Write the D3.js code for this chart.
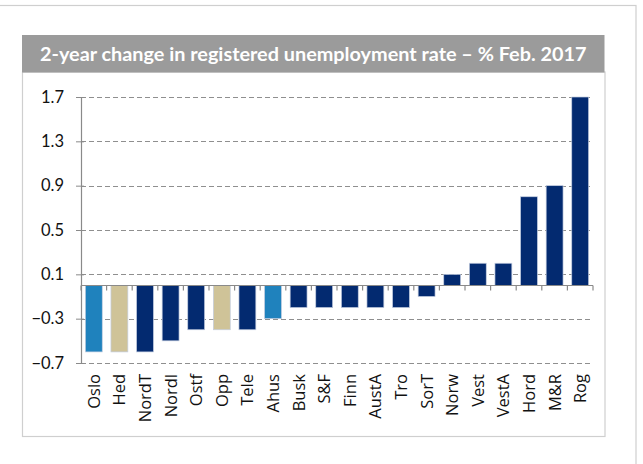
<!DOCTYPE html>
<html>
<head>
<meta charset="utf-8">
<script src="https://cdn.jsdelivr.net/npm/d3@7"></script>
<style>
  html, body { margin: 0; padding: 0; background: #fff; }
  svg { display: block; }
</style>
</head>
<body>
<svg id="chart" width="643" height="464"></svg>
<script>
// Regions, ordered by 2-year change in registered unemployment rate
const regions = ["Oslo", "Hed", "NordT", "Nordl", "Ostf", "Opp", "Tele", "Ahus", "Busk", "S&F",
                 "Finn", "AustA", "Tro", "SorT", "Norw", "Vest", "VestA", "Hord", "M&R", "Rog"];
const changes = [-0.6, -0.6, -0.6, -0.5, -0.4, -0.4, -0.4, -0.3, -0.2, -0.2,
                 -0.2, -0.2, -0.2, -0.1, 0.1, 0.2, 0.2, 0.8, 0.9, 1.7];
// colour group per region: 0 = navy, 1 = light blue, 2 = sand
const groups = [1, 2, 0, 0, 0, 2, 0, 1, 0, 0,
                0, 0, 0, 0, 0, 0, 0, 0, 0, 0];
const yTicks = [-0.7, -0.3, 0.1, 0.5, 0.9, 1.3, 1.7];
const titleText = "2-year change in registered unemployment rate – % Feb. 2017";

const palette = ["#032a70", "#1f82bd", "#cfc398"];

const svg = d3.select("#chart");
const font = "'Open Sans', 'DejaVu Sans', sans-serif";

// outer frame
svg.append("rect")
  .attr("x", -2).attr("y", 5.5).attr("width", 638).attr("height", 470)
  .attr("fill", "none").attr("stroke", "#cfcfcf").attr("stroke-width", 1.2);

// inner panel
svg.append("rect")
  .attr("x", 22.5).attr("y", 72).attr("width", 582.5).attr("height", 364.5)
  .attr("fill", "#fff").attr("stroke", "#cfcfcf").attr("stroke-width", 1.2);

// title bar
svg.append("rect")
  .attr("x", 22).attr("y", 35).attr("width", 582.5).attr("height", 37.5)
  .attr("fill", "#9b9b9b");

const title = svg.append("text")
  .attr("x", 40).attr("y", 61)
  .attr("fill", "#fff")
  .attr("font-family", "Lato, 'Open Sans', sans-serif")
  .attr("font-weight", "bold")
  .attr("font-size", 20)
  .text(titleText);
// fit title to its bar width
const tw = title.node().getComputedTextLength();
title.attr("font-size", 20 * 547 / tw);

const x = d3.scaleBand().domain(regions).range([81, 593]).paddingInner(0.34).paddingOuter(0.17);
const y = d3.scaleLinear().domain([-0.7, 1.7]).range([363, 97]);

// dashed gridlines
svg.append("g").selectAll("line").data(yTicks).join("line")
  .attr("x1", 81).attr("x2", 593)
  .attr("y1", d => Math.round(y(d)) + 0.5).attr("y2", d => Math.round(y(d)) + 0.5)
  .attr("stroke", "#8f8f8f").attr("stroke-width", 1.2).attr("stroke-dasharray", "5,3");

// y axis
const yAxis = d3.axisLeft(y).tickValues(yTicks).tickFormat(d3.format(".1f")).tickSize(5).tickPadding(12);
const yg = svg.append("g").attr("transform", "translate(81,0)").call(yAxis);
yg.select(".domain").attr("stroke", "#8a8a8a").attr("stroke-width", 1.2);
yg.selectAll(".tick line").attr("stroke", "#8a8a8a").attr("x1", 3).attr("x2", -5);
yg.selectAll(".tick text")
  .attr("font-family", "Lato, 'Open Sans', sans-serif")
  .attr("font-size", 16.5).attr("fill", "#111");

// bars
svg.append("g").selectAll("rect").data(regions).join("rect")
  .attr("x", d => x(d))
  .attr("width", x.bandwidth())
  .attr("y", (d, i) => y(Math.max(0, changes[i])))
  .attr("height", (d, i) => Math.abs(y(changes[i]) - y(0)))
  .attr("fill", (d, i) => palette[groups[i]])
  .attr("stroke", "#c3cde0").attr("stroke-width", 0.7);

// zero axis with boundary ticks
const y0 = Math.round(y(0)) + 0.5;
svg.append("line").attr("x1", 81).attr("x2", 593).attr("y1", y0).attr("y2", y0)
  .attr("stroke", "#8a8a8a").attr("stroke-width", 1.2);
const step = x.step();
svg.append("g").selectAll("line").data(d3.range(regions.length + 1)).join("line")
  .attr("x1", i => 81 + i * step).attr("x2", i => 81 + i * step)
  .attr("y1", y0).attr("y2", y0 + 5)
  .attr("stroke", "#8a8a8a").attr("stroke-width", 1.2);

// category labels, rotated
svg.append("g").selectAll("text").data(regions).join("text")
  .attr("transform", d => `translate(${x(d) + x.bandwidth() / 2 + 6},374) rotate(-90)`)
  .attr("text-anchor", "end")
  .attr("font-family", font)
  .attr("font-size", 16.5)
  .attr("fill", "#111")
  .text(d => d);
</script>
</body>
</html>
